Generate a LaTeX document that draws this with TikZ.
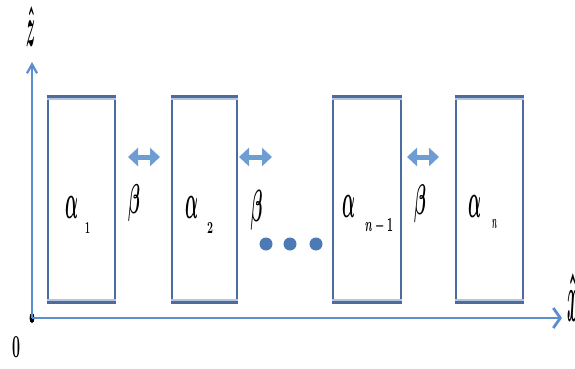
\documentclass[tikz,border=0pt]{standalone}
\usepackage{fontspec}
\usetikzlibrary{arrows.meta,shapes.geometric}
\definecolor{boxblue}{HTML}{4A6C9F}
\definecolor{axisblue}{HTML}{5B8ED0}
\definecolor{gapblue}{HTML}{6E9DD4}
\definecolor{dotblue}{HTML}{4C7AB5}
\tikzset{
  layer/.style={draw=boxblue, line width=1.5pt, minimum width=#1,
    minimum height=204pt, inner sep=0pt},
  rim/.style={draw=boxblue, line width=3pt},
  rimshade/.style={draw=boxblue!40, line width=2pt},
  gaparrow/.style={draw=gapblue, line width=5pt,
    {Triangle[length=10pt,width=18pt]}-{Triangle[length=10pt,width=18pt]}},
  axis/.style={draw=axisblue, line width=2.2pt},
  ball/.style={circle, fill=dotblue, minimum size=13pt, inner sep=0pt},
  lbl/.style={inner sep=0pt, text=black, font=\boldmath\bfseries}
}
\begin{document}
\begin{tikzpicture}[x=1pt,y=-1pt]
\useasboundingbox (0,0) rectangle (575,369);

% layers
\node[layer=67pt] (L1) at (81.5,199.5) {};
\node[layer=65pt] (L2) at (204.5,199.5) {};
\node[layer=68pt] (L3) at (367,199.5) {};
\node[layer=67pt] (L4) at (489.5,199.5) {};
\foreach \b in {L1,L2,L3,L4}{
  \draw[rimshade] ([yshift=-2.5pt]\b.north west) -- ([yshift=-2.5pt]\b.north east);
  \draw[rimshade] ([yshift=2.5pt]\b.south west) -- ([yshift=2.5pt]\b.south east);
  \draw[rim] (\b.north west) -- (\b.north east);
  \draw[rim] (\b.south west) -- (\b.south east);
}

% origin and axes
\node[ellipse, fill=black, minimum width=5pt, minimum height=10pt, inner sep=0pt] (O) at (32,318) {};
\coordinate (ztip) at (32,62);
\coordinate (xtip) at (562,318);
\draw[axis, -{Straight Barb[length=9pt,width=10pt]}] (O.center) -- (ztip);
\draw[axis, line width=2.8pt, -{Straight Barb[length=7pt,width=20pt]}] (O.center) -- (xtip);
\node[lbl] (zl) at (31,26) {\resizebox*{9pt}{40pt}{$\hat z$}};
\node[lbl] (xl) at (573,297) {\resizebox*{11pt}{48pt}{$\hat x$}};
\node[lbl] (ol) at (16,347) {\resizebox{8pt}{21pt}{0}};

% gap arrows
\coordinate (g1l) at (128,157); \coordinate (g1r) at (160,157);
\coordinate (g2l) at (239,157); \coordinate (g2r) at (272,157);
\coordinate (g3l) at (407,157); \coordinate (g3r) at (439,157);
\draw[gaparrow] (g1l) -- (g1r);
\draw[gaparrow] (g2l) -- (g2r);
\draw[gaparrow] (g3l) -- (g3r);

% labels
\node[lbl] (a1) at (71.5,207.5) {\resizebox{13pt}{22pt}{$\alpha$}};
\node[lbl] (a1s) at (87.5,227.5) {\resizebox{5pt}{11pt}{1}};
\node[lbl] (a2) at (191.5,207.5) {\resizebox{13pt}{22pt}{$\alpha$}};
\node[lbl] (a2s) at (210,227.5) {\resizebox{6pt}{11pt}{2}};
\node[lbl] (a3) at (349,206.5) {\resizebox{13pt}{22pt}{$\alpha$}};
\node[lbl] (a3s) at (379,226.5) {\resizebox{28pt}{13pt}{$n-1$}};
\node[lbl] (a4) at (475,206.5) {\resizebox{13pt}{22pt}{$\alpha$}};
\node[lbl] (a4s) at (494.5,223.5) {\resizebox{5pt}{9pt}{$n$}};
\node[lbl] (b1) at (134,203.5) {\resizebox*{12pt}{37pt}{$\beta$}};
\node[lbl] (b2) at (256.5,210) {\resizebox*{12pt}{40pt}{$\beta$}};
\node[lbl] (b3) at (420,204) {\resizebox*{12pt}{38pt}{$\beta$}};

% ellipsis dots
\node[ball] (d1) at (266,244) {};
\node[ball] (d2) at (290,244) {};
\node[ball] (d3) at (316,244) {};
\end{tikzpicture}
\end{document}
